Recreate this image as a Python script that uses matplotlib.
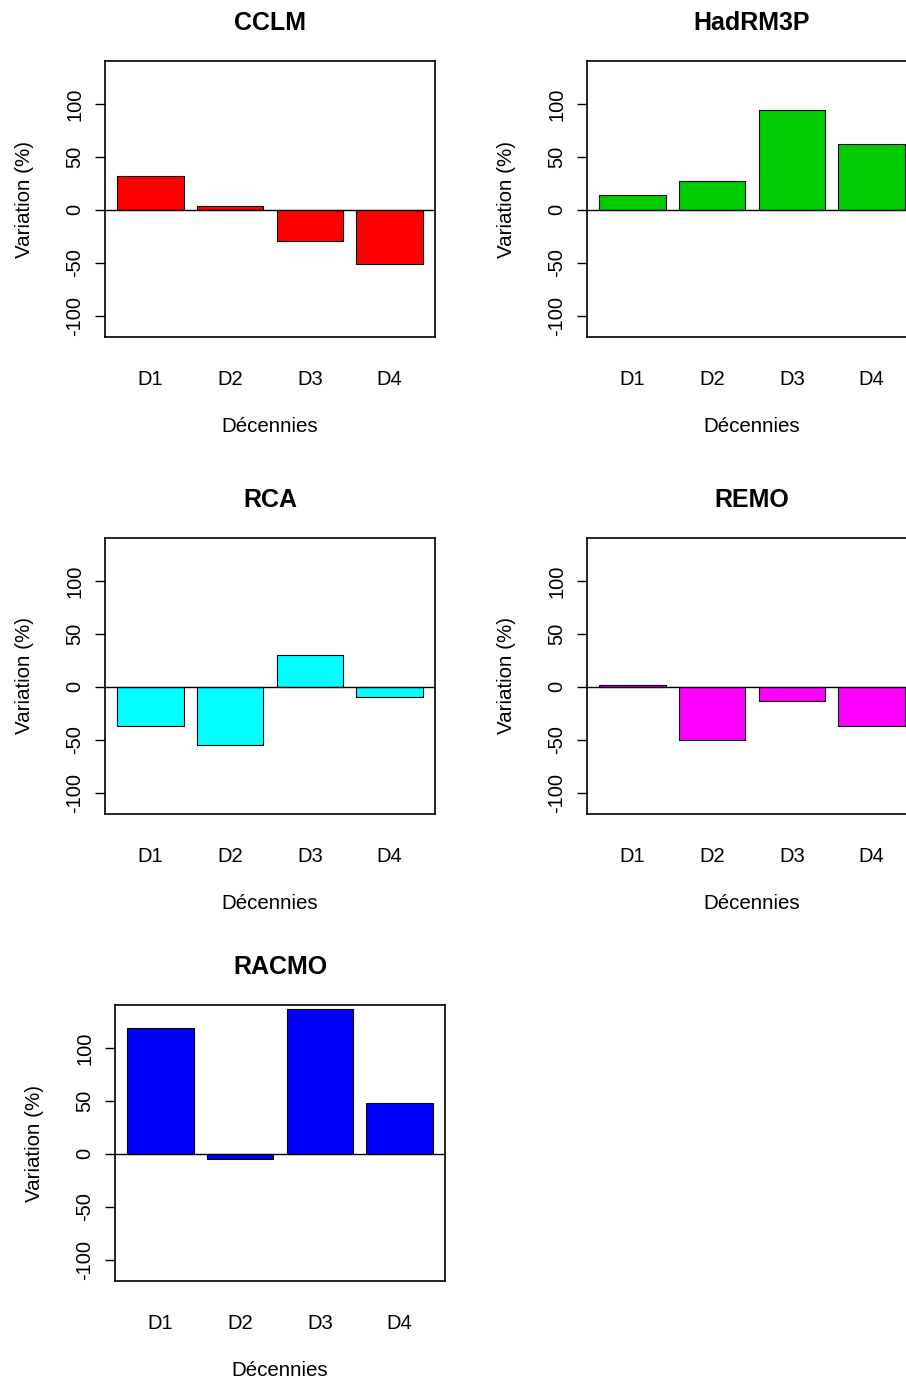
import matplotlib
matplotlib.use("Agg")
import matplotlib.pyplot as plt

plt.rcParams['font.family'] = ['Liberation Sans', 'DejaVu Sans']

# data (variation in %)
decades = ["D1", "D2", "D3", "D4"]
models = ["CCLM", "HadRM3P", "RCA", "REMO", "RACMO"]
cclm = [31.6, 4.1, -29.5, -50.7]
hadrm3p = [13.6, 27.2, 94.3, 62.0]
rca = [-36.9, -54.9, 30.0, -9.5]
remo = [1.5, -50.0, -13.8, -36.5]
racmo = [118.7, -5.1, 136.8, 48.3]
colors = ["#FF0000", "#00CD00", "#00FFFF", "#FF00FF", "#0000FF"]
yticks = [-100, -50, 0, 50, 100]

W, H = 906, 1382
fig = plt.figure(figsize=(W / 100, H / 100), dpi=100)

# axes boxes in pixels: left, top (width 330, height 276)
boxes = [(105, 61), (587, 61), (105, 538), (587, 538), (115, 1005)]
bw, bh = 330, 276

series = [cclm, hadrm3p, rca, remo, racmo]

# R barplot geometry: width 1, space 0.2
centers = [0.7 + 1.2 * i for i in range(len(decades))]

for name, vals, col, (left, top) in zip(models, series, colors, boxes):
    ax = fig.add_axes([left / W, 1 - (top + bh) / H, bw / W, bh / H])
    ax.bar(centers, vals, width=1.0, color=col, edgecolor="black", linewidth=0.8, zorder=2)
    ax.axhline(0, color="black", linewidth=1.0, zorder=3)
    ax.set_xlim(0.016, 4.984)
    ax.set_ylim(-120, 140.5)

    ax.set_yticks(yticks)
    ax.set_yticklabels([str(v) for v in yticks], rotation=90, va="center", fontsize=14.5)
    ax.tick_params(axis="y", length=7, width=1, pad=8)
    ax.set_xticks(centers)
    ax.set_xticklabels(decades, fontsize=14.5)
    ax.tick_params(axis="x", length=0, pad=23.5)

    for s in ax.spines.values():
        s.set_linewidth(1.2)

    ax.annotate(name, xy=(0.5, 1), xycoords="axes fraction", xytext=(0, 38),
                textcoords="offset pixels", ha="center", va="center",
                fontsize=18, fontweight="bold")
    ax.annotate("Décennies", xy=(0.5, 0), xycoords="axes fraction", xytext=(0, -90),
                textcoords="offset pixels", ha="center", va="center", fontsize=14.8)
    ax.annotate("Variation (%)", xy=(0, 0.5), xycoords="axes fraction", xytext=(-81, 0),
                textcoords="offset pixels", ha="center", va="center", rotation=90,
                fontsize=14.8)

fig.savefig("out.png", dpi=100)
